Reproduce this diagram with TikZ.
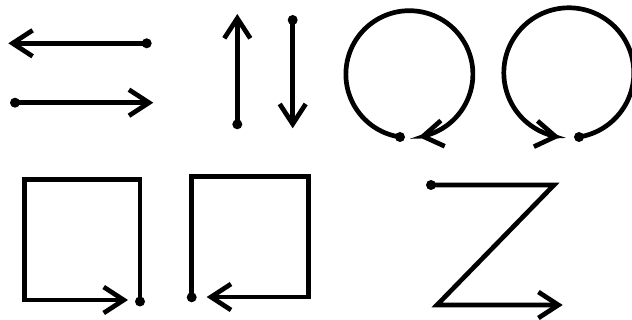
\documentclass[tikz,border=0pt]{standalone}
\usetikzlibrary{arrows.meta}
\begin{document}
\begin{tikzpicture}[x=1pt,y=-1pt,
  line width=4.7pt,
  dotnode/.style={circle,fill=black,inner sep=0pt,minimum size=10pt},
  arr/.style={-{Straight Barb[length=20pt,width=26pt]}},
  every path/.append style={line join=miter}]
\useasboundingbox (0,0) rectangle (632,320);
% horizontal arrows
\node[dotnode] (d1) at (146.7,43.3) {};
\coordinate (t1) at (8.3,43.3);
\draw[arr] (d1.center) -- (t1);
\node[dotnode] (d2) at (15,102.7) {};
\coordinate (t2) at (153.3,102.7);
\draw[arr] (d2.center) -- (t2);
% vertical arrows
\node[dotnode] (d3) at (237.3,124.3) {};
\coordinate (t3) at (237.3,14);
\draw[arr] (d3.center) -- (t3);
\node[dotnode] (d4) at (292.7,20) {};
\coordinate (t4) at (292.7,128.3);
\draw[arr] (d4.center) -- (t4);
% circle 1 (clockwise on screen)
\node[dotnode] (d5) at (400,137) {};
\draw[arr] (d5.center) arc[start angle=98.5, end angle=430, radius=63.5]
  arc[start angle=430, end angle=441.5, radius=63.5];
% circle 2 (counter-clockwise on screen)
\node[dotnode] (d6) at (579,137) {};
\draw[arr] (d6.center) arc[start angle=81, end angle=-250, radius=65]
  arc[start angle=-250, end angle=-262, radius=65];
% square 1
\node[dotnode] (d7) at (140,301.5) {};
\coordinate (s1a) at (140,179.3);
\coordinate (s1b) at (24.3,179.3);
\coordinate (s1c) at (24.3,300);
\coordinate (t7) at (128,300);
\draw[arr] (d7.center) -- (s1a) -- (s1b) -- (s1c) -- (t7);
% square 2
\node[dotnode] (d8) at (191.7,297.3) {};
\coordinate (s2a) at (191.7,176.3);
\coordinate (s2b) at (308.3,176.3);
\coordinate (s2c) at (308.3,297);
\coordinate (t8) at (206.7,297);
\draw[arr] (d8.center) -- (s2a) -- (s2b) -- (s2c) -- (t8);
% Z
\node[dotnode] (d9) at (431,185) {};
\coordinate (z1) at (554,185);
\coordinate (z2) at (437,305);
\coordinate (t9) at (562.7,305);
\draw[arr] (d9.center) -- (z1) -- (z2) -- (t9);
\end{tikzpicture}
\end{document}
